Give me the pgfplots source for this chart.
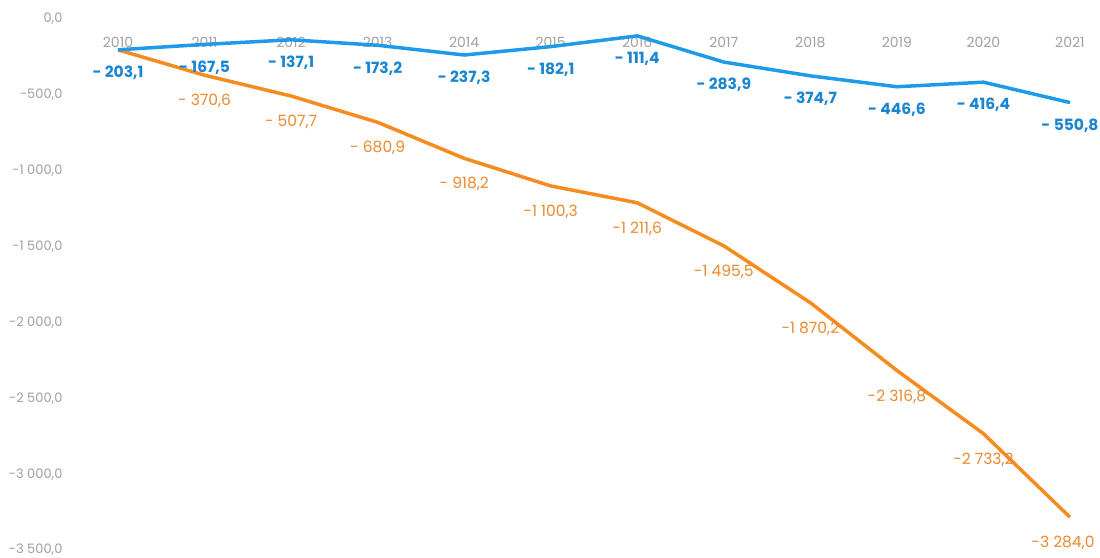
\documentclass[border=0pt]{standalone}
\usepackage{fontspec}
\setmainfont{Poppins}
\usepackage{pgfplots}
\pgfplotsset{compat=1.18}

\definecolor{lineblue}{HTML}{1E9BE8}
\definecolor{lineorange}{HTML}{F68B1F}
\definecolor{lblblue}{HTML}{1A86D2}
\definecolor{lblorange}{HTML}{E98A2E}
\definecolor{tickgray}{HTML}{A0A0A0}

\tikzset{orangelbl/.style={anchor=center, yshift=-26pt, text=lblorange, font=\fontsize{15.5}{16}\selectfont}}

\begin{document}
\begin{tikzpicture}
  % keep the reference's margins
  \path[use as bounding box] (-118pt,-7pt) rectangle (982pt,550pt);
  \begin{axis}[
      scale only axis,
      width=952pt, height=531pt,
      xmin=2010, xmax=2021,
      ymin=-3500, ymax=0,
      axis line style={draw=none},
      major tick length=0pt,
      xtick={2010,...,2021},
      xticklabels={2010,2011,2012,2013,2014,2015,2016,2017,2018,2019,2020,2021},
      xticklabel pos=upper,
      xticklabel style={anchor=center, yshift=-23pt, font=\fontsize{14}{15}\selectfont, text=tickgray},
      ytick={0,-500,-1000,-1500,-2000,-2500,-3000,-3500},
      yticklabels={{0,0},{-500,0},{-1 000,0},{-1 500,0},{-2 000,0},{-2 500,0},{-3 000,0},{-3 500,0}},
      yticklabel style={anchor=east, xshift=-52pt, font=\fontsize{13}{14}\selectfont, text=tickgray},
      clip=false,
      nodes near coords,
      point meta=explicit symbolic,
    ]
    \addplot[color=lineorange, line width=3.5pt, mark=none,
      every node near coord/.append style={orangelbl}]
      coordinates {
        (2010,-203.1) []
        (2011,-370.6) [- 370,6]
        (2012,-507.7) [- 507,7]
        (2013,-680.9) [- 680,9]
        (2014,-918.2) [- 918,2]
        (2015,-1100.3) [-1 100,3]
        (2016,-1211.6) [-1 211,6]
        (2017,-1495.5) [-1 495,5]
        (2018,-1870.2) [-1 870,2]
        (2019,-2316.8) [-2 316,8]
        (2020,-2733.2) [-2 733,2]
        (2021,-3284.0) []
      };
    \addplot[draw=none, mark=none,
      every node near coord/.append style={orangelbl, xshift=-7pt}]
      coordinates {(2021,-3284.0) [-3 284,0]};
    \addplot[color=lineblue, line width=3.5pt, mark=none,
      every node near coord/.append style={anchor=center, yshift=-23pt,
        text=lblblue, font=\fontsize{15.5}{16}\selectfont\bfseries}]
      coordinates {
        (2010,-203.1) [- 203,1]
        (2011,-167.5) [- 167,5]
        (2012,-137.1) [- 137,1]
        (2013,-173.2) [- 173,2]
        (2014,-237.3) [- 237,3]
        (2015,-182.1) [- 182,1]
        (2016,-111.4) [- 111,4]
        (2017,-283.9) [- 283,9]
        (2018,-374.7) [- 374,7]
        (2019,-446.6) [- 446,6]
        (2020,-416.4) [- 416,4]
        (2021,-550.8) [- 550,8]
      };
  \end{axis}
\end{tikzpicture}
\end{document}
